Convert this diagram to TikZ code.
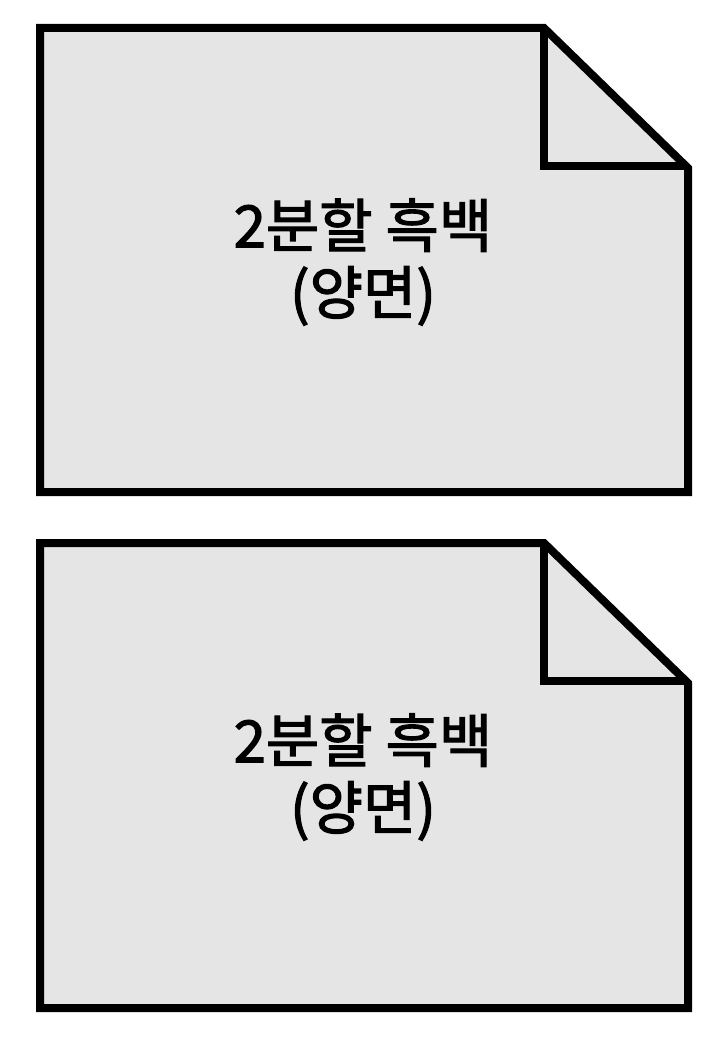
\documentclass[tikz,border=0pt]{standalone}
\usepackage{fontspec}
\newfontfamily\hangul[FakeBold=2]{Noto Sans CJK KR}
\usepackage{tikz}
\usetikzlibrary{positioning}
\definecolor{pagegray}{HTML}{E5E5E5}

\begin{document}
\begin{tikzpicture}[x=1pt, y=-1pt]
			\tikzstyle{Page}	= [line width=8pt, fill=pagegray, line join=miter]
			\tikzstyle{Fold}	= [line width=8pt]
			\tikzstyle{Label}	= [align=center, inner sep=0pt, font=\hangul\fontsize{58}{67}\selectfont]

			\useasboundingbox (0, 0) rectangle (720, 1040);

			% upper sheet
			\draw [Page] (40, 28) -- (544, 28) -- (688, 168) -- (688, 492) -- (40, 492) -- cycle;
			\draw [Fold] (544, 28) -- (544, 166) -- (688, 166);
			\node (t1) at (363, 262) [Label] {2분할 흑백\\(양면)};

			% lower sheet
			\draw [Page] (40, 543) -- (544, 543) -- (688, 683) -- (688, 1008) -- (40, 1008) -- cycle;
			\draw [Fold] (544, 543) -- (544, 681) -- (688, 681);
			\node (t2) at (363, 777) [Label] {2분할 흑백\\(양면)};
		\end{tikzpicture}
\end{document}
